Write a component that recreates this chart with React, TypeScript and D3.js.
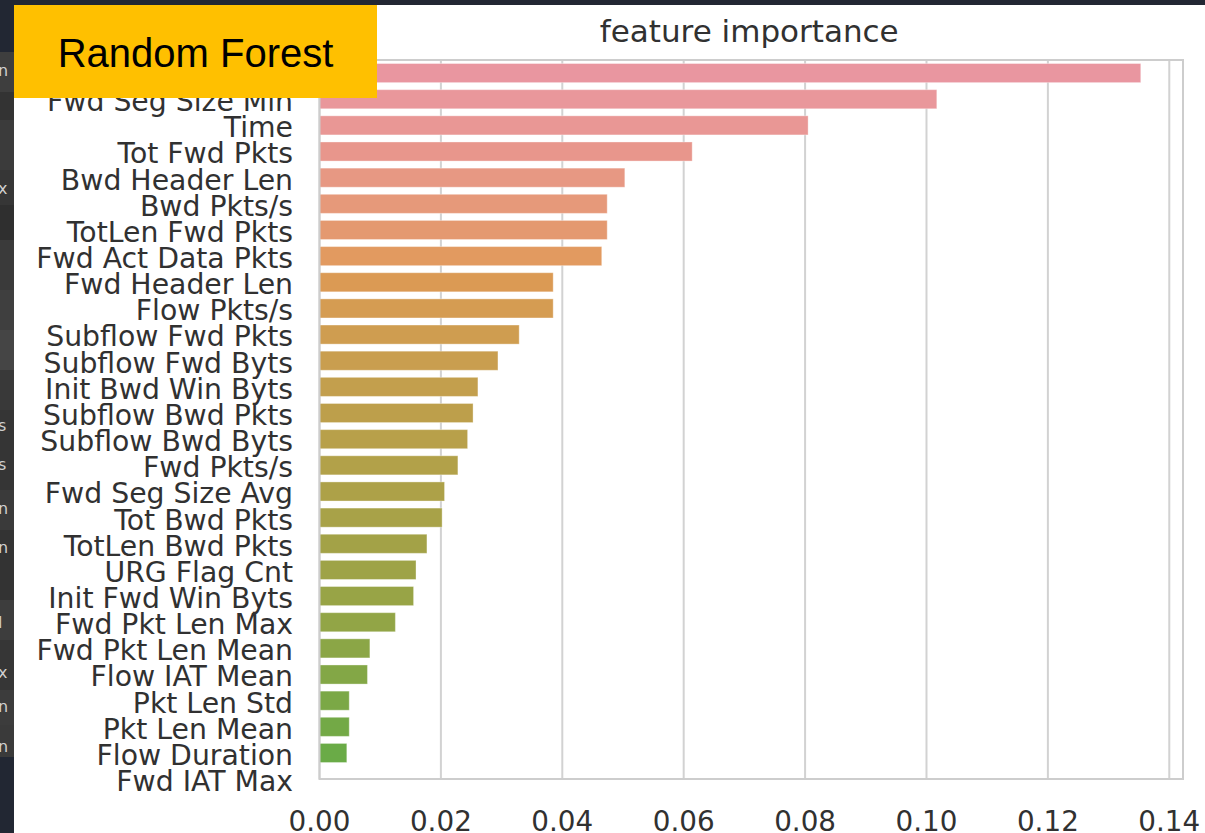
import React from "react";
import * as d3 from "d3";

const features: string[] = [
  "Dst Port",
  "Fwd Seg Size Min",
  "Time",
  "Tot Fwd Pkts",
  "Bwd Header Len",
  "Bwd Pkts/s",
  "TotLen Fwd Pkts",
  "Fwd Act Data Pkts",
  "Fwd Header Len",
  "Flow Pkts/s",
  "Subflow Fwd Pkts",
  "Subflow Fwd Byts",
  "Init Bwd Win Byts",
  "Subflow Bwd Pkts",
  "Subflow Bwd Byts",
  "Fwd Pkts/s",
  "Fwd Seg Size Avg",
  "Tot Bwd Pkts",
  "TotLen Bwd Pkts",
  "URG Flag Cnt",
  "Init Fwd Win Byts",
  "Fwd Pkt Len Max",
  "Fwd Pkt Len Mean",
  "Flow IAT Mean",
  "Pkt Len Std",
  "Pkt Len Mean",
  "Flow Duration",
  "Fwd IAT Max",
];

const importance: number[] = [
  0.1353, 0.1017, 0.0805, 0.0614, 0.0503, 0.0474, 0.0474, 0.0465, 0.0385,
  0.0385, 0.0329, 0.0294, 0.0261, 0.0253, 0.0244, 0.0228, 0.0206, 0.0202,
  0.0177, 0.0159, 0.0155, 0.0125, 0.0083, 0.0079, 0.0049, 0.0049, 0.0045,
  0.0,
];

const xTicks: number[] = [0, 0.02, 0.04, 0.06, 0.08, 0.1, 0.12, 0.14];

const barColors: string[] = [
  "#e996a0", "#e9979b", "#e99795", "#e8968c", "#e79883", "#e6997a", "#e49970",
  "#e29a60", "#db9a54", "#d59c52", "#cf9d50", "#c99e4f", "#c39f4d", "#bd9f4b",
  "#b8a04a", "#b2a149", "#ada148", "#a8a248", "#a3a247", "#9ea347", "#98a446",
  "#92a546", "#8ba646", "#83a746", "#7ba846", "#73a946", "#6aab47", "#60ac48",
];

const titleText = "feature importance";
const badgeText = "Random Forest";

const W = 1205;
const H = 833;
const left = 319.5;
const right = 1183;
const top = 60;
const bottom = 779;
const step = 26.15;

export default function App() {
  const x = d3.scaleLinear().domain([0, 0.14226]).range([left, right]);
  const y = d3
    .scaleBand<string>()
    .domain(features)
    .range([top, top + step * features.length])
    .paddingInner(0.27)
    .paddingOuter(0.135);
  const fmt = d3.format(".2f");
  const textColor = "#313131";
  const font = "'DejaVu Sans', sans-serif";

  const stripBands = [
    { y0: 52, y1: 92, c: "#3e3e3e" },
    { y0: 92, y1: 120, c: "#333333" },
    { y0: 120, y1: 170, c: "#3b3b3b" },
    { y0: 170, y1: 205, c: "#363636" },
    { y0: 205, y1: 240, c: "#2f2f2f" },
    { y0: 240, y1: 290, c: "#3a3a3a" },
    { y0: 290, y1: 330, c: "#3f3f3f" },
    { y0: 330, y1: 370, c: "#454545" },
    { y0: 370, y1: 410, c: "#393939" },
    { y0: 410, y1: 490, c: "#353535" },
    { y0: 490, y1: 530, c: "#3a3a3a" },
    { y0: 530, y1: 600, c: "#333333" },
    { y0: 600, y1: 640, c: "#3d3d3d" },
    { y0: 640, y1: 690, c: "#363636" },
    { y0: 690, y1: 725, c: "#3c3c3c" },
    { y0: 725, y1: 757, c: "#3a3a3a" },
  ];
  const stripLetters = [
    { y: 76, t: "n" }, { y: 194, t: "x" }, { y: 431, t: "s" }, { y: 470, t: "s" },
    { y: 514, t: "n" }, { y: 553, t: "n" }, { y: 628, t: "l" }, { y: 678, t: "x" },
    { y: 712, t: "n" }, { y: 752, t: "n" },
  ];

  return (
    <svg
      width={W}
      height={H}
      style={{ position: "fixed", top: 0, left: 0, display: "block" }}
    >
      <rect x={0} y={0} width={W} height={H} fill="#ffffff" />
      <rect x={0} y={0} width={W} height={5} fill="#222733" />
      <rect x={0} y={0} width={14} height={H} fill="#222733" />
      {stripBands.map((b, i) => (
        <rect key={i} x={0} y={b.y0} width={14} height={b.y1 - b.y0} fill={b.c} />
      ))}
      <clipPath id="strip">
        <rect x={0} y={0} width={14} height={H} />
      </clipPath>
      <g clipPath="url(#strip)">
        {stripLetters.map((l, i) => (
          <text
            key={i}
            x={-2}
            y={l.y}
            fontFamily={font}
            fontSize={16}
            fill="#d0d0d0"
          >
            {l.t}
          </text>
        ))}
      </g>

      {/* gridlines */}
      {xTicks.map((t) => (
        <line
          key={t}
          x1={x(t)}
          x2={x(t)}
          y1={top}
          y2={bottom}
          stroke="#d2d2d2"
          strokeWidth={2}
        />
      ))}

      <clipPath id="plot">
        <rect x={left} y={top} width={right - left} height={bottom - top} />
      </clipPath>
      <g clipPath="url(#plot)">
        {features.map((f, i) => (
          <rect
            key={f}
            x={x(0)}
            y={y(f)!}
            width={Math.max(0, x(importance[i]) - x(0))}
            height={y.bandwidth()}
            fill={barColors[i]}
            stroke="#ffffff"
            strokeOpacity={0.35}
            strokeWidth={1}
          />
        ))}
      </g>

      {/* frame */}
      <rect
        x={left}
        y={top}
        width={right - left}
        height={bottom - top}
        fill="none"
        stroke="#cdcdcd"
        strokeWidth={2}
      />

      {/* y labels */}
      {features.map((f) => (
        <text
          key={f}
          x={293}
          y={y(f)! + y.bandwidth() / 2}
          dy="0.42em"
          textAnchor="end"
          fontFamily={font}
          fontSize={28.3}
          fill={textColor}
        >
          {f}
        </text>
      ))}

      {/* x tick labels */}
      {xTicks.map((t) => (
        <text
          key={t}
          x={x(t)}
          y={831}
          textAnchor="middle"
          fontFamily={font}
          fontSize={27.8}
          fill={textColor}
        >
          {fmt(t)}
        </text>
      ))}

      <text
        x={(left + right) / 2 - 2}
        y={42}
        textAnchor="middle"
        fontFamily={font}
        fontSize={31}
        fill={textColor}
      >
        {titleText}
      </text>

      {/* badge */}
      <rect x={14} y={5} width={363} height={93} fill="#ffc000" />
      <text
        x={195.5}
        y={67}
        textAnchor="middle"
        fontFamily="'Liberation Sans', Arial, sans-serif"
        fontSize={40}
        fill="#000000"
      >
        {badgeText}
      </text>
    </svg>
  );
}
